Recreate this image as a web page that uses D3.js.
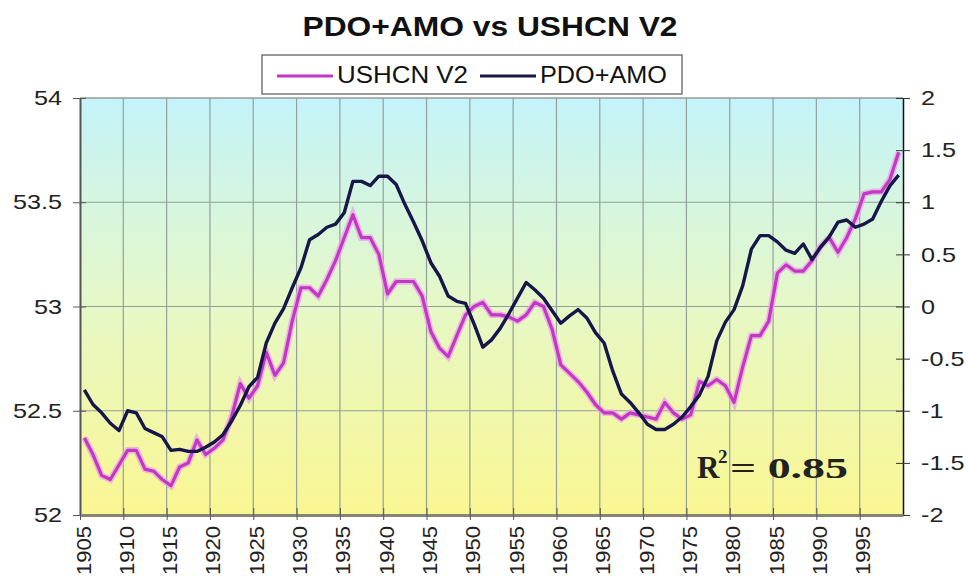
<!DOCTYPE html>
<html>
<head>
<meta charset="utf-8">
<script src="https://cdn.jsdelivr.net/npm/d3@7"></script>
<style>
  body { margin: 0; background: #fff; }
  svg text { font-family: "Liberation Sans", Arial, sans-serif; }
</style>
</head>
<body>
<div id="vis"></div>
<script>
// Constants
const FRAME_WIDTH = 968;
const FRAME_HEIGHT = 578;
const MARGINS = { left: 80, right: 65, top: 98, bottom: 63 };

const VIS_WIDTH = FRAME_WIDTH - MARGINS.left - MARGINS.right;
const VIS_HEIGHT = FRAME_HEIGHT - MARGINS.top - MARGINS.bottom;

// data, one value per year (1905-1999)
const YEARS = d3.range(1905, 2000);

const USHCN = [
  52.37, 52.29, 52.19, 52.17, 52.24, 52.31, 52.31, 52.22, 52.21, 52.17,
  52.14, 52.23, 52.25, 52.36, 52.29, 52.32, 52.36, 52.47, 52.63, 52.56,
  52.62, 52.78, 52.67, 52.73, 52.93, 53.09, 53.09, 53.05, 53.13, 53.22,
  53.33, 53.44, 53.33, 53.33, 53.25, 53.06, 53.12, 53.12, 53.12, 53.05,
  52.88, 52.80, 52.76, 52.86, 52.96, 53.00, 53.02, 52.96, 52.96, 52.95,
  52.93, 52.96, 53.02, 53.00, 52.89, 52.72, 52.68, 52.64, 52.59, 52.53,
  52.49, 52.49, 52.46, 52.49, 52.48, 52.47, 52.46, 52.54, 52.49, 52.46,
  52.48, 52.64, 52.62, 52.65, 52.62, 52.54, 52.71, 52.86, 52.86, 52.93,
  53.16, 53.20, 53.17, 53.17, 53.22, 53.29, 53.33, 53.26, 53.33, 53.42,
  53.54, 53.55, 53.55, 53.61, 53.74
];

const PDO_AMO = [
  -0.80, -0.94, -1.02, -1.12, -1.19, -1.00, -1.02, -1.17, -1.21, -1.25,
  -1.38, -1.37, -1.39, -1.39, -1.35, -1.30, -1.23, -1.10, -0.95, -0.77,
  -0.68, -0.35, -0.16, -0.02, 0.18, 0.37, 0.64, 0.69, 0.76, 0.79,
  0.90, 1.20, 1.20, 1.16, 1.25, 1.25, 1.17, 0.98, 0.81, 0.63,
  0.42, 0.29, 0.10, 0.05, 0.03, -0.17, -0.39, -0.32, -0.21, -0.07,
  0.08, 0.23, 0.16, 0.08, -0.04, -0.16, -0.09, -0.03, -0.11, -0.25,
  -0.35, -0.62, -0.84, -0.92, -1.02, -1.13, -1.18, -1.18, -1.13, -1.06,
  -0.96, -0.85, -0.67, -0.33, -0.15, -0.03, 0.20, 0.55, 0.68, 0.68,
  0.62, 0.54, 0.51, 0.60, 0.45, 0.57, 0.67, 0.81, 0.83, 0.76,
  0.79, 0.84, 1.01, 1.16, 1.26
];

// tick labels
const X_TICKS = [1905, 1910, 1915, 1920, 1925, 1930, 1935, 1940, 1945, 1950,
  1955, 1960, 1965, 1970, 1975, 1980, 1985, 1990, 1995];
const LEFT_TICKS = [52, 52.5, 53, 53.5, 54];
const RIGHT_TICKS = [-2, -1.5, -1, -0.5, 0, 0.5, 1, 1.5, 2];

const SERIES_NAMES = ["USHCN V2", "PDO+AMO"];
const SERIES_COLORS = ["#c436c4", "#16164a"];

// stretch text sideways, the original glyphs are wider than Arial
function stretch(sel, k) {
  sel.each(function () {
    const w = this.getComputedTextLength();
    d3.select(this).attr("textLength", w * k).attr("lengthAdjust", "spacingAndGlyphs");
  });
}

const FRAME = d3.select("#vis")
  .append("svg")
  .attr("width", FRAME_WIDTH)
  .attr("height", FRAME_HEIGHT);

// background gradient of the plot area
const grad = FRAME.append("defs").append("linearGradient")
  .attr("id", "bg")
  .attr("x1", 0).attr("y1", 0).attr("x2", 0).attr("y2", 1);
grad.append("stop").attr("offset", "0%").attr("stop-color", "#c4f3fa");
grad.append("stop").attr("offset", "50%").attr("stop-color", "#e6f8c6");
grad.append("stop").attr("offset", "100%").attr("stop-color", "#faf692");

// scales
const X_SCALE = d3.scaleLinear().domain([1905, 2000]).range([0, VIS_WIDTH]);
const Y_LEFT = d3.scaleLinear().domain([52, 54]).range([VIS_HEIGHT, 0]);
const Y_RIGHT = d3.scaleLinear().domain([-2, 2]).range([VIS_HEIGHT, 0]);

const PLOT = FRAME.append("g")
  .attr("transform", "translate(" + MARGINS.left + "," + MARGINS.top + ")");

PLOT.append("rect")
  .attr("width", VIS_WIDTH)
  .attr("height", VIS_HEIGHT)
  .attr("fill", "url(#bg)");

// gridlines
PLOT.selectAll(".vgrid")
  .data(X_TICKS.slice(1))
  .enter()
  .append("line")
  .attr("x1", (d) => X_SCALE(d)).attr("x2", (d) => X_SCALE(d))
  .attr("y1", 0).attr("y2", VIS_HEIGHT)
  .attr("stroke", "#94a09c").attr("stroke-width", 1.2);

PLOT.selectAll(".hgrid")
  .data(LEFT_TICKS.slice(1, -1))
  .enter()
  .append("line")
  .attr("x1", 0).attr("x2", VIS_WIDTH)
  .attr("y1", (d) => Y_LEFT(d)).attr("y2", (d) => Y_LEFT(d))
  .attr("stroke", "#94a09c").attr("stroke-width", 1.2);

// top border
PLOT.append("line")
  .attr("x1", 0).attr("x2", VIS_WIDTH).attr("y1", 0).attr("y2", 0)
  .attr("stroke", "#9a9a9a").attr("stroke-width", 1.5);

// lines (mid-year positions)
const ushcnData = YEARS.map((y, i) => ({ year: y, v: USHCN[i] }));
const pdoData = YEARS.map((y, i) => ({ year: y, v: PDO_AMO[i] }));

const lineLeft = d3.line().x((d) => X_SCALE(d.year + 0.5)).y((d) => Y_LEFT(d.v));
const lineRight = d3.line().x((d) => X_SCALE(d.year + 0.5)).y((d) => Y_RIGHT(d.v));

PLOT.append("path")
  .datum(ushcnData)
  .attr("d", lineLeft)
  .attr("fill", "none")
  .attr("stroke", "#e6a3e6")
  .attr("stroke-width", 6.5)
  .attr("opacity", 0.75);
PLOT.append("path")
  .datum(ushcnData)
  .attr("d", lineLeft)
  .attr("fill", "none")
  .attr("stroke", SERIES_COLORS[0])
  .attr("stroke-width", 3.2)
  .attr("stroke-linejoin", "round");

PLOT.append("path")
  .datum(pdoData)
  .attr("d", lineRight)
  .attr("fill", "none")
  .attr("stroke", SERIES_COLORS[1])
  .attr("stroke-width", 3.4)
  .attr("stroke-linejoin", "round");

// left axis
const leftAxis = PLOT.append("g")
  .call(d3.axisLeft(Y_LEFT).tickValues(LEFT_TICKS).tickFormat(d3.format("")).tickSizeOuter(0));
leftAxis.select(".domain").attr("stroke", "#555").attr("stroke-width", 2);
leftAxis.selectAll(".tick line").attr("x1", -7).attr("x2", 6).attr("stroke", "#555");
leftAxis.selectAll(".tick text")
  .attr("x", -18)
  .attr("font-size", 21)
  .attr("fill", "#222")
  .call(stretch, 1.2);

// right axis
const rightAxis = PLOT.append("g")
  .attr("transform", "translate(" + VIS_WIDTH + ",0)")
  .call(d3.axisRight(Y_RIGHT).tickValues(RIGHT_TICKS).tickFormat(d3.format("")).tickSizeOuter(0));
rightAxis.select(".domain").attr("stroke", "#111").attr("stroke-width", 1.5);
rightAxis.selectAll(".tick line").attr("x1", -7).attr("x2", 7).attr("stroke", "#333");
rightAxis.selectAll(".tick text")
  .attr("x", 18)
  .attr("font-size", 21)
  .attr("fill", "#222")
  .text((d) => d3.format("")(d).replace("\u2212", "-"))
  .call(stretch, 1.2);

// bottom axis, rotated year labels kept inside the frame
const bottomAxis = PLOT.append("g")
  .attr("transform", "translate(0," + VIS_HEIGHT + ")")
  .call(d3.axisBottom(X_SCALE).tickValues(X_TICKS).tickFormat(d3.format("d")).tickSizeOuter(0));
bottomAxis.select(".domain").attr("stroke", "#858575").attr("stroke-width", 3);
bottomAxis.selectAll(".tick line").attr("y1", -7).attr("y2", 5).attr("stroke", "#555");
bottomAxis.selectAll(".tick text")
  .attr("transform", "rotate(-90)")
  .attr("text-anchor", "end")
  .attr("x", -11)
  .attr("y", 3)
  .attr("dy", "0.35em")
  .attr("font-size", 20)
  .attr("fill", "#222")
  .attr("textLength", 49)
  .attr("lengthAdjust", "spacingAndGlyphs");

// title
FRAME.append("text")
  .attr("x", 490)
  .attr("y", 36)
  .attr("text-anchor", "middle")
  .attr("font-size", 28)
  .attr("font-weight", "bold")
  .attr("fill", "#111")
  .attr("textLength", 375)
  .attr("lengthAdjust", "spacingAndGlyphs")
  .text("PDO+AMO vs USHCN V2");

// legend
const LEGEND = FRAME.append("g");
LEGEND.append("rect")
  .attr("x", 262).attr("y", 55)
  .attr("width", 420).attr("height", 39)
  .attr("fill", "#fff")
  .attr("stroke", "#555").attr("stroke-width", 1.2);

const legendItems = [
  { x: 277, len: 131 },
  { x: 480, len: 127 }
];
legendItems.forEach((it, i) => {
  LEGEND.append("line")
    .attr("x1", it.x).attr("x2", it.x + 56)
    .attr("y1", 76).attr("y2", 76)
    .attr("stroke", SERIES_COLORS[i]).attr("stroke-width", 3);
  LEGEND.append("text")
    .attr("x", it.x + 60)
    .attr("y", 83)
    .attr("font-size", 24)
    .attr("fill", "#111")
    .attr("textLength", it.len)
    .attr("lengthAdjust", "spacingAndGlyphs")
    .text(SERIES_NAMES[i]);
});

// R squared note
const R2 = FRAME.append("g")
  .attr("font-weight", "bold")
  .attr("fill", "#222");
R2.append("text").attr("x", 697).attr("y", 478).attr("font-size", 31)
  .style("font-family", "'Liberation Serif', 'Times New Roman', serif").text("R");
R2.append("text").attr("x", 718).attr("y", 463).attr("font-size", 19)
  .style("font-family", "'Liberation Serif', 'Times New Roman', serif").text("2");
R2.append("text").attr("x", 730).attr("y", 478).attr("font-size", 30)
  .style("font-family", "'Liberation Serif', 'Times New Roman', serif")
  .attr("textLength", 118).attr("lengthAdjust", "spacingAndGlyphs")
  .text("= 0.85");
</script>
</body>
</html>
